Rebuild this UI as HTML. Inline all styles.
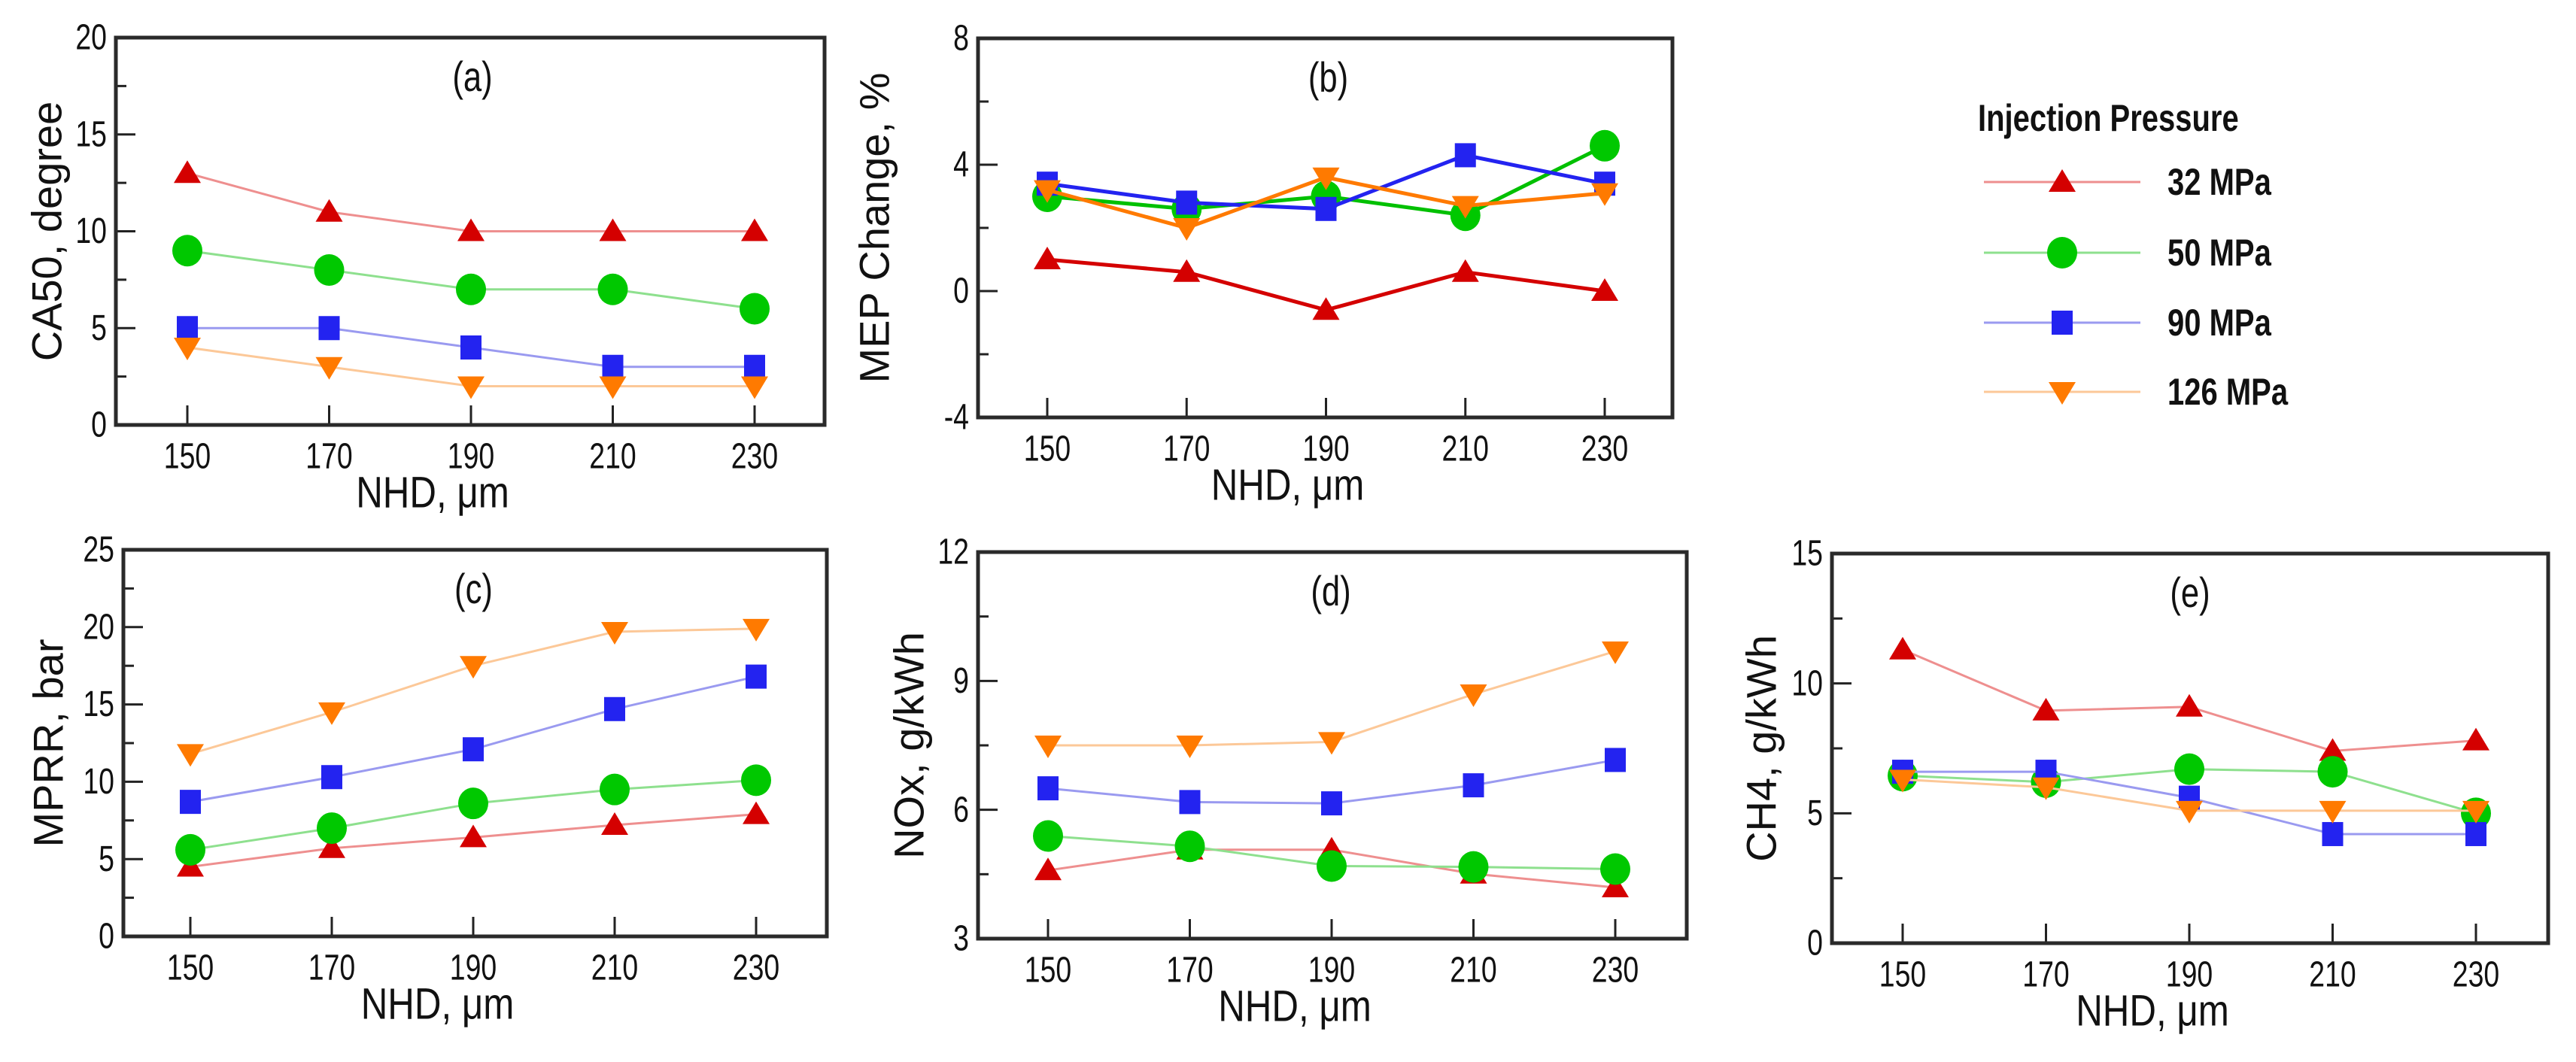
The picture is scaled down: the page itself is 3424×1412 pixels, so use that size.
<!DOCTYPE html>
<html><head><meta charset="utf-8">
<style>
html,body{margin:0;padding:0;background:#fff;}
svg{display:block;}
</style></head>
<body>
<svg id="chart" width="3424" height="1412" viewBox="0 0 3424 1412" xmlns="http://www.w3.org/2000/svg">
<rect width="3424" height="1412" fill="#fff"/>
</svg>
<script>
const categories = [150, 170, 190, 210, 230];
const seriesNames = ["32 MPa", "50 MPa", "90 MPa", "126 MPa"];
// (a) CA50
const a32 = [13, 11, 10, 10, 10];
const a50 = [9, 8, 7, 7, 6];
const a90 = [5, 5, 4, 3, 3];
const a126 = [4, 3, 2, 2, 2];
const aTicks = [0, 5, 10, 15, 20];
// (b) MEP change
const b32 = [1.0, 0.6, -0.6, 0.6, 0.0];
const b50 = [3.0, 2.6, 3.0, 2.4, 4.6];
const b90 = [3.4, 2.8, 2.6, 4.3, 3.4];
const b126 = [3.2, 2.0, 3.6, 2.7, 3.1];
const bTicks = [-4, 0, 4, 8];
// (c) MPRR
const c32 = [4.5, 5.7, 6.4, 7.2, 7.9];
const c50 = [5.6, 7.0, 8.6, 9.5, 10.1];
const c90 = [8.7, 10.3, 12.1, 14.7, 16.8];
const c126 = [11.8, 14.5, 17.5, 19.7, 19.9];
const cTicks = [0, 5, 10, 15, 20, 25];
// (d) NOx
const d32 = [4.59, 5.07, 5.07, 4.51, 4.19];
const d50 = [5.39, 5.15, 4.69, 4.67, 4.62];
const d90 = [6.5, 6.18, 6.15, 6.57, 7.16];
const d126 = [7.5, 7.5, 7.58, 8.69, 9.69];
const dTicks = [3, 6, 9, 12];
// (e) CH4
const e32 = [11.3, 8.95, 9.1, 7.4, 7.8];
const e50 = [6.45, 6.2, 6.7, 6.6, 5.0];
const e90 = [6.6, 6.6, 5.6, 4.2, 4.2];
const e126 = [6.3, 6.0, 5.1, 5.1, 5.1];
const eTicks = [0, 5, 10, 15];

const NS = "http://www.w3.org/2000/svg";
const svg = document.getElementById("chart");
const markerColors = ["#d40000", "#00c800", "#2323f0", "#ff7a00"];
const paleColors = ["#ee8f8f", "#8ee08e", "#9a9af0", "#fcc898"];
const boldColors = ["#d40000", "#00c000", "#2323f0", "#ff7a00"];
const markerKinds = ["up", "circle", "square", "down"];

function el(tag, attrs, parent) {
  const e = document.createElementNS(NS, tag);
  for (const k in attrs) e.setAttribute(k, attrs[k]);
  (parent || svg).appendChild(e);
  return e;
}
function txt(x, y, s, size, opts, parent) {
  opts = opts || {};
  const g = el("g", {transform: `translate(${x},${y}) ${opts.rot ? "rotate(-90)" : ""} scale(${opts.sx || 1},1)`}, parent);
  const t = el("text", {x: 0, y: 0, "font-size": size, "font-family": '"Liberation Sans", Arial, sans-serif',
    "text-anchor": opts.anchor || "middle", "dominant-baseline": "central", fill: "#111",
    "font-weight": opts.bold ? "bold" : "normal"}, g);
  t.textContent = s;
  return t;
}
function marker(kind, x, y, color, parent) {
  let m;
  if (kind === "up") m = el("polygon", {points: `${x-18},${y+13} ${x+18},${y+13} ${x},${y-17}`, fill: color}, parent);
  else if (kind === "down") m = el("polygon", {points: `${x-18},${y-13} ${x+18},${y-13} ${x},${y+17}`, fill: color}, parent);
  else if (kind === "circle") m = el("ellipse", {cx: x, cy: y, rx: 20, ry: 21, fill: color}, parent);
  else m = el("rect", {x: x-14, y: y-16, width: 28, height: 32, fill: color}, parent);
  return m;
}

function panel(cfg) {
  const g = el("g", {});
  
  
  const L = cfg.L, R = cfg.R, T = cfg.T, B = cfg.B;
  const ymin = cfg.ticks[0], ymax = cfg.ticks[cfg.ticks.length - 1];
  const xs = v => cfg.x0 + (v - categories[0]) / (categories[4] - categories[0]) * (cfg.x1 - cfg.x0);
  const ys = v => B - (v - ymin) / (ymax - ymin) * (B - T);
  // ticks
  const step = cfg.ticks[1] - cfg.ticks[0];
  for (let i = 0; i < cfg.ticks.length; i++) {
    const v = cfg.ticks[i];
    const lab = txt(L - 12, ys(v), String(v), 48, {anchor: "end", sx: 0.78}, g);
    
    
    if (i > 0 && i < cfg.ticks.length) {
      el("line", {x1: L, x2: L + 26, y1: ys(v), y2: ys(v), stroke: "#222", "stroke-width": 3}, g);
    }
    if (i < cfg.ticks.length - 1) {
      const mv = v + step / 2;
      el("line", {x1: L, x2: L + 14, y1: ys(mv), y2: ys(mv), stroke: "#222", "stroke-width": 3}, g);
    }
  }
  for (const c of categories) {
    el("line", {x1: xs(c), x2: xs(c), y1: B, y2: B - 26, stroke: "#222", "stroke-width": 3}, g);
    const lab = txt(xs(c), B + 42, String(c), 48, {sx: 0.78}, g);
    
    
  }
  // series
  cfg.series.forEach((vals, si) => {
    const sg = el("g", {}, g);
    
    
    const pts = vals.map((v, i) => `${xs(categories[i])},${ys(v)}`).join(" ");
    el("polyline", {points: pts, fill: "none", stroke: cfg.bold ? boldColors[si] : paleColors[si], "stroke-width": cfg.bold ? 5 : 3}, sg);
    vals.forEach((v, i) => {
      const m = marker(markerKinds[si], xs(categories[i]), ys(v), markerColors[si], sg);
      
      
    });
  });
  // frame
  const fr = el("rect", {x: L, y: T, width: R - L, height: B - T, fill: "none", stroke: "#2a2a2a", "stroke-width": 5}, g);
  
  
  const pl = txt((L + R) / 2 + cfg.labDx, T + 52, cfg.label, 56, {sx: 0.78}, g);
  
  
  const xt = txt((L + R) / 2 - 50 + (cfg.xtDx || 0), B + 90, "NHD, μm", 58, {sx: 0.85}, g);
  
  
  const yt = txt(cfg.ytX, (T + B) / 2, cfg.ytitle, 56, {rot: true}, g);
  
  
}

panel({name: "panel-a-ca50", L: 154, R: 1096, T: 50, B: 565, x0: 249, x1: 1003, ticks: aTicks,
  series: [a32, a50, a90, a126], label: "(a)", labDx: 3, ytitle: "CA50, degree", ytX: 62, bold: false});
panel({name: "panel-b-mep", L: 1300, R: 2223, T: 51, B: 555, x0: 1392, x1: 2133, ticks: bTicks,
  series: [b32, b50, b90, b126], label: "(b)", labDx: 4, ytitle: "MEP Change, %", ytX: 1162, bold: true});
panel({name: "panel-c-mprr", L: 164, R: 1099, T: 731, B: 1245, x0: 253, x1: 1005, ticks: cTicks,
  series: [c32, c50, c90, c126], label: "(c)", labDx: -2, ytitle: "MPRR, bar", ytX: 64, bold: false});
panel({name: "panel-d-nox", L: 1300, R: 2242, T: 734, B: 1248, x0: 1393, x1: 2147, ticks: dTicks,
  series: [d32, d50, d90, d126], label: "(d)", labDx: -2, ytitle: "NOx, g/kWh", ytX: 1208, bold: false});
panel({name: "panel-e-ch4", L: 2435, R: 3387, T: 736, B: 1254, x0: 2529, x1: 3291, ticks: eTicks,
  series: [e32, e50, e90, e126], label: "(e)", labDx: 0, ytitle: "CH4, g/kWh", ytX: 2341, bold: false});

// legend
const lg = el("g", {});


const lt = txt(2629, 157, "Injection Pressure", 50, {anchor: "start", bold: true, sx: 0.8}, lg);


const legendY = [242, 336, 429, 521];
seriesNames.forEach((n, i) => {
  const eg = el("g", {}, lg);
  
  
  el("line", {x1: 2637, x2: 2845, y1: legendY[i], y2: legendY[i], stroke: paleColors[i], "stroke-width": 3}, eg);
  marker(markerKinds[i], 2741, legendY[i], markerColors[i], eg);
  txt(2881, legendY[i], n, 50, {anchor: "start", bold: true, sx: 0.8}, eg);
});
</script>
</body></html>
